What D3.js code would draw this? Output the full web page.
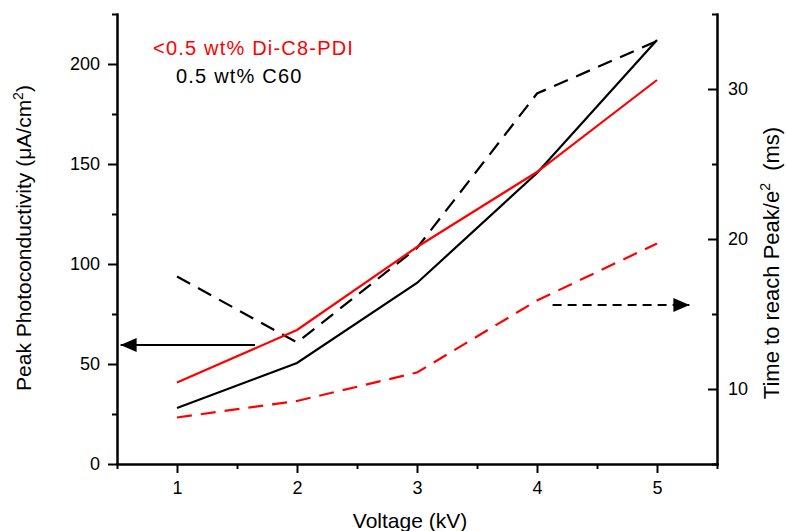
<!DOCTYPE html>
<html>
<head>
<meta charset="utf-8">
<script src="https://cdn.jsdelivr.net/npm/d3@7"></script>
<style>
	body { margin: 0; background: #fff; }
	svg { display: block; font-family: "Liberation Sans", Arial, sans-serif; }
	.axis path, .axis line { stroke: #000; stroke-width: 2; }
	.axis text { font-size: 18px; fill: #000; }
</style>
</head>
<body>
<div id="chart"></div>
<script>
var voltage = [1, 2, 3, 4, 5];

// left axis series (uA/cm^2)
var pdiPhoto = [40.7, 67, 108.5, 146, 192];
var c60Photo = [28, 50.5, 90.5, 145.5, 212];

// right axis series (ms)
var pdiTime = [8.1, 9.2, 11.1, 15.9, 19.7];
var c60Time = [17.5, 13.1, 19.4, 29.7, 33.2];

var xTicks = [1, 2, 3, 4, 5],
	xMinor = [0.5, 1.5, 2.5, 3.5, 4.5, 5.5],
	leftTicks = [0, 50, 100, 150, 200],
	leftMinor = [25, 75, 125, 175, 225],
	rightTicks = [10, 20, 30],
	rightMinor = [5, 15, 25, 35];

// arrows, in data units: [x start, x end, y]
var leftArrow = [1.65, 0.53, 59.5],
	rightArrow = [4.13, 5.27, 15.6];

(function() {
	"use strict";

	var width = 786,
		height = 531,
		x = d3.scaleLinear().domain([0.5, 5.5]).range([117, 717]),
		yLeft = d3.scaleLinear().domain([0, 225]).range([464, 14]),
		yRight = d3.scaleLinear().domain([5, 35]).range([464, 14]);

	var svg = d3.select("#chart")
		.append("svg")
		.attr("width", width)
		.attr("height", height);

	var defs = svg.append("defs");
	defs.append("marker")
		.attr("id", "head")
		.attr("viewBox", "0 0 16 14")
		.attr("refX", 16)
		.attr("refY", 7)
		.attr("markerWidth", 16)
		.attr("markerHeight", 14)
		.attr("markerUnits", "userSpaceOnUse")
		.attr("orient", "auto")
		.append("path")
		.attr("d", "M0,0L16,7L0,14Z")
		.attr("fill", "#000");

	// x axis
	svg.append("g")
		.attr("class", "axis")
		.attr("transform", "translate(0,464)")
		.call(d3.axisBottom(x).tickValues(xMinor).tickSize(5).tickSizeOuter(0).tickFormat(""));
	svg.append("g")
		.attr("class", "axis")
		.attr("transform", "translate(0,464)")
		.call(d3.axisBottom(x).tickValues(xTicks).tickSize(9).tickPadding(8).tickSizeOuter(0).tickFormat(d3.format("d")));

	// left axis
	svg.append("g")
		.attr("class", "axis")
		.attr("transform", "translate(117,0)")
		.call(d3.axisLeft(yLeft).tickValues(leftMinor).tickSize(5).tickSizeOuter(0).tickFormat(""));
	svg.append("g")
		.attr("class", "axis")
		.attr("transform", "translate(117,0)")
		.call(d3.axisLeft(yLeft).tickValues(leftTicks).tickSize(9).tickPadding(8).tickSizeOuter(0).tickFormat(d3.format("d")));

	// right axis, ticks pointing in
	svg.append("g")
		.attr("class", "axis")
		.attr("transform", "translate(717,0)")
		.call(d3.axisRight(yRight).tickValues(rightMinor).tickSize(-5).tickSizeOuter(0).tickFormat(""));
	svg.append("g")
		.attr("class", "axis")
		.attr("transform", "translate(717,0)")
		.call(d3.axisRight(yRight).tickValues(rightTicks).tickSize(-9).tickPadding(11).tickSizeOuter(0).tickFormat(d3.format("d")));

	svg.selectAll(".axis .domain").attr("stroke-linecap", "square");

	// lines
	var lineLeft = d3.line()
		.x(function(d, i) { return x(voltage[i]); })
		.y(function(d, i) { return yLeft(d); });
	var lineRight = d3.line()
		.x(function(d, i) { return x(voltage[i]); })
		.y(function(d, i) { return yRight(d); });

	var series = [
		{ values: pdiTime, line: lineRight, color: "#ff0000", dash: "15,9" },
		{ values: c60Time, line: lineRight, color: "#000", dash: "15,9" },
		{ values: c60Photo, line: lineLeft, color: "#000", dash: null },
		{ values: pdiPhoto, line: lineLeft, color: "#ff0000", dash: null }
	];

	svg.append("g")
		.selectAll("path")
		.data(series)
		.enter()
		.append("path")
		.attr("fill", "none")
		.attr("stroke", function(d) { return d.color; })
		.attr("stroke-width", 2.2)
		.attr("stroke-dasharray", function(d) { return d.dash; })
		.attr("d", function(d) { return d.line(d.values); });

	// arrows
	svg.append("line")
		.attr("x1", x(leftArrow[0]))
		.attr("x2", x(leftArrow[1]))
		.attr("y1", yLeft(leftArrow[2]))
		.attr("y2", yLeft(leftArrow[2]))
		.attr("stroke", "#000")
		.attr("stroke-width", 2.2)
		.attr("marker-end", "url(#head)");
	svg.append("line")
		.attr("x1", x(rightArrow[0]))
		.attr("x2", x(rightArrow[1]))
		.attr("y1", yRight(rightArrow[2]))
		.attr("y2", yRight(rightArrow[2]))
		.attr("stroke", "#000")
		.attr("stroke-width", 2.2)
		.attr("stroke-dasharray", "9,6")
		.attr("marker-end", "url(#head)");

	// legend text
	svg.append("text")
		.attr("x", 153)
		.attr("y", 55)
		.attr("fill", "#ff0000")
		.style("font-size", "20px")
		.style("letter-spacing", "1.2px")
		.text("<0.5 wt% Di-C8-PDI");
	svg.append("text")
		.attr("x", 176)
		.attr("y", 83)
		.attr("fill", "#000")
		.style("font-size", "20px")
		.style("letter-spacing", "1.2px")
		.text("0.5 wt% C60");

	// axis titles
	svg.append("text")
		.attr("x", 410)
		.attr("y", 528)
		.attr("text-anchor", "middle")
		.style("font-size", "21px")
		.text("Voltage (kV)");

	var yl = svg.append("text")
		.attr("transform", "translate(31,238) rotate(-90)")
		.attr("text-anchor", "middle")
		.style("font-size", "21px");
	yl.append("tspan").text("Peak Photoconductivity (\u03bcA/cm");
	yl.append("tspan").attr("dy", -8).style("font-size", "14px").text("2");
	yl.append("tspan").attr("dy", 8).text(")");

	var yr = svg.append("text")
		.attr("transform", "translate(779,263) rotate(-90)")
		.attr("text-anchor", "middle")
		.style("font-size", "22px");
	yr.append("tspan").text("Time to reach Peak/e");
	yr.append("tspan").attr("dy", -9).style("font-size", "14px").text("2");
	yr.append("tspan").attr("dy", 9).text("\u00a0 (ms)");
})();
</script>
</body>
</html>
